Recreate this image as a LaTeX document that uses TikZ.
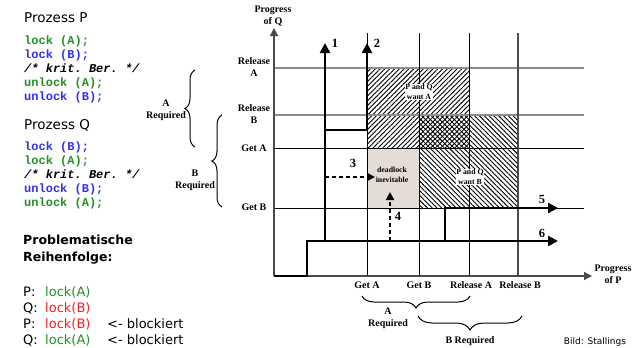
\documentclass[tikz,border=0pt]{standalone}
\usepackage{fontspec}
\setmainfont{Liberation Serif}
\setsansfont{DejaVu Sans}
\setmonofont{Liberation Mono}
\usetikzlibrary{arrows.meta,patterns.meta,decorations.pathreplacing}
\definecolor{gruen}{HTML}{229022}
\definecolor{blau}{HTML}{3030F0}
\definecolor{rot}{HTML}{FF1C1C}
\definecolor{sperre}{HTML}{E4DDD6}
\definecolor{hgrau}{HTML}{8E8E8E}
\definecolor{dgrau}{HTML}{4A4A4A}
\tikzset{
  pfad/.style={-{Triangle[length=10pt,width=10pt]},line width=2.4pt},
  pfadd/.style={-{Triangle[length=8pt,width=8pt]},line width=2pt,dash pattern=on 4pt off 3pt},
  achse/.style={-{Triangle[length=8pt,width=8pt]},dgrau,line width=1.3pt},
  glinie/.style={hgrau,line width=1.2pt},
  slinie/.style={black,line width=1pt},
  lab/.style={font=\bfseries\fontsize{10}{12}\selectfont,align=center,inner sep=0pt},
  klein/.style={font=\bfseries\fontsize{7.8}{10}\selectfont,align=center,inner sep=0.6pt},
  nummer/.style={font=\bfseries\fontsize{12.5}{14}\selectfont,inner sep=0pt},
  kode/.style={font=\ttfamily\bfseries\fontsize{12}{14}\selectfont,align=left,anchor=north west,inner sep=0pt},
  titel/.style={font=\sffamily\fontsize{13.5}{16}\selectfont,anchor=base west,inner sep=0pt},
  zeile/.style={font=\sffamily\fontsize{13}{16}\selectfont,anchor=base west,inner sep=0pt},
  klammer/.style={decorate,decoration={brace,amplitude=10pt},line width=1pt},
}

\begin{document}
\begin{tikzpicture}[x=1pt,y=-1pt]
  \useasboundingbox (0,0) rectangle (632,348);
  % Prozesse links
  \node[titel] (titelP) at (24,22) {Prozess P};
  \node[kode] (kodeP) at (24,36) {\textcolor{gruen}{lock (A);}\\
    \textcolor{blau}{lock (B);}\\
    \textit{/* krit. Ber. */}\\
    \textcolor{gruen}{unlock (A);}\\
    \textcolor{blau}{unlock (B);}};
  \node[titel] (titelQ) at (24,129) {Prozess Q};
  \node[kode] (kodeQ) at (24,142) {\textcolor{blau}{lock (B);}\\
    \textcolor{gruen}{lock (A);}\\
    \textit{/* krit. Ber. */}\\
    \textcolor{blau}{unlock (B);}\\
    \textcolor{gruen}{unlock (A);}};
  \node[font=\sffamily\bfseries\fontsize{12.5}{17}\selectfont,align=left,anchor=north west,inner sep=0pt]
    (problem) at (23,235) {Problematische\\Reihenfolge:};
  \foreach \wer/\was/\farbe/\zusatz [count=\i] in {P:/lock(A)/gruen/{}, Q:/lock(B)/rot/{},
      P:/lock(B)/rot/{<- blockiert}, Q:/lock(A)/gruen/{<- blockiert}} {
    \node[zeile] (wer\i) at (23,280+16*\i) {\wer};
    \node[zeile,\farbe] (was\i) at (45,280+16*\i) {\was};
    \node[zeile] (zusatz\i) at (107,280+16*\i) {\zusatz};
  }
  % Bereiche
  \fill[sperre] (367,148) rectangle (419,208);
  \fill[pattern={Lines[angle=45,distance=3.4pt,line width=0.9pt]}] (367,68) rectangle (469,148);
  \fill[pattern={Lines[angle=-45,distance=3.4pt,line width=0.9pt]}] (419,115) rectangle (518,208);
  % Gitter
  \foreach \yy in {68,115} \draw[glinie] (274,\yy) -- (584,\yy);
  \foreach \yy in {148,208} \draw[slinie] (274,\yy) -- (584,\yy);
  \foreach \xx in {367,419,469} \draw[slinie] (\xx,276) -- (\xx,33);
  \draw[dgrau,line width=2pt] (518,276) -- (518,33);
  % Achsen
  \draw[achse] (274,276) -- (274,28);
  \draw[achse] (274,276) -- (592,276);
  % Pfade
  \draw[pfad] (274,276) -- (307,276) -- (307,241) -- (558,241);
  \draw[pfad] (325,241) -- (325,43);
  \draw[pfad] (325,130) -- (367,130) -- (367,43);
  \draw[pfad] (445,241) -- (445,208) -- (558,208);
  \draw[pfadd] (325,177) -- (375,177);
  \draw[pfadd] (390,241) -- (390,192);
  \node[nummer] (n1) at (335,43) {1};
  \node[nummer] (n2) at (377,43) {2};
  \node[nummer] (n3) at (353,163) {3};
  \node[nummer] (n4) at (398,216) {4};
  \node[nummer] (n5) at (542,199) {5};
  \node[nummer] (n6) at (542,233) {6};
  % Beschriftung
  \node[klein] (tot) at (392,175) {deadlock\\inevitable};
  \node[klein,fill=white] (wantA) at (419,92) {P and Q\\want A};
  \node[klein,fill=white] (wantB) at (470,177) {P and Q\\want B};
  \node[lab] (progQ) at (273,16) {Progress\\of Q};
  \node[lab] (progP) at (613,274) {Progress\\of P};
  \node[lab] (relA) at (254,67) {Release\\A};
  \node[lab] (relB) at (254,114) {Release\\B};
  \node[lab] (getA) at (254,148) {Get A};
  \node[lab] (getB) at (254,207) {Get B};
  \node[lab] (pgetA) at (367,285) {Get A};
  \node[lab] (pgetB) at (419,285) {Get B};
  \node[lab] (prelA) at (471,285) {Release A};
  \node[lab] (prelB) at (520,285) {Release B};
  % Klammern
  \draw[klammer] (195,147) -- (195,70);
  \draw[klammer] (222,207) -- (222,115);
  \draw[klammer,decoration={amplitude=12pt}] (470,296) -- (362,296);
  \draw[klammer,decoration={amplitude=14pt}] (522,316) -- (418,316);
  \node[lab] (reqA) at (166,110) {A\\Required};
  \node[lab] (reqB) at (195,180) {B\\Required};
  \node[lab] (preqA) at (388,318) {A\\Required};
  \node[lab] (preqB) at (470,341) {B Required};
  \node[font=\sffamily\fontsize{9}{11}\selectfont,inner sep=0pt] (quelle) at (595,342) {Bild: Stallings};
\end{tikzpicture}
\end{document}
